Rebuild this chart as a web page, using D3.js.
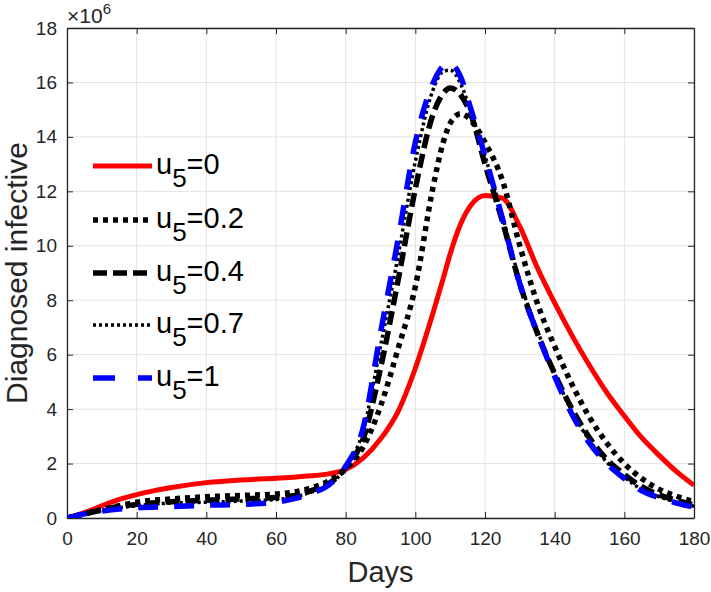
<!DOCTYPE html>
<html><head><meta charset="utf-8">
<script src="https://cdn.jsdelivr.net/npm/d3@7"></script>
<style>body{margin:0;background:#fff}svg{display:block}</style>
</head><body>
<script>
const days   = [0,5,10,15,20,30,40,50,60,65,70,75,80,85,90,95,100,105,108,110,113,116,120,125,130,135,140,145,150,155,160,165,170,175,180];
const u5_0   = [0,0.2,0.45,0.68,0.86,1.12,1.3,1.4,1.46,1.5,1.55,1.62,1.78,2.2,2.9,3.9,5.5,7.5,8.8,9.7,10.8,11.5,11.85,11.75,10.7,9.2,7.9,6.7,5.6,4.6,3.75,2.95,2.3,1.7,1.2];
const u5_02  = [0,0.15,0.3,0.45,0.58,0.7,0.78,0.83,0.88,0.95,1.1,1.35,1.8,2.6,4.1,6.2,8.5,12.1,13.8,14.5,14.85,14.6,13.8,12.4,10.0,7.9,6.3,4.9,3.7,2.75,2.0,1.45,1.05,0.8,0.6];
const u5_04  = [0,0.15,0.3,0.42,0.5,0.6,0.65,0.7,0.75,0.82,1.0,1.25,1.85,2.9,5.5,8.7,12.1,14.8,15.6,15.8,15.55,14.8,13.0,10.9,8.6,6.8,5.3,4.0,2.95,2.15,1.6,1.15,0.85,0.65,0.48];
const u5_07  = [0,0.15,0.28,0.38,0.45,0.55,0.58,0.62,0.68,0.76,0.95,1.2,1.85,3.2,6.3,9.6,13.1,15.7,16.4,16.45,15.95,14.9,13.3,11.1,8.7,6.9,5.3,3.9,2.85,2.05,1.5,1.05,0.78,0.58,0.43];
const u5_1   = [0,0.15,0.25,0.33,0.38,0.42,0.47,0.5,0.58,0.7,0.9,1.2,1.9,3.3,6.8,10.2,13.8,15.95,16.6,16.7,16.2,15.0,13.3,11.0,8.6,6.8,5.2,3.8,2.75,2.0,1.45,1.0,0.75,0.55,0.4];
const seriesNames = ["0","0.2","0.4","0.7","1"];
const xTicks = [0,20,40,60,80,100,120,140,160,180];
const yTicks = [0,2,4,6,8,10,12,14,16,18];

const W=711,H=592;
const m={l:67,r:694,t:28,b:518};
const font="'Liberation Sans', Arial, Helvetica, sans-serif";
const svg=d3.select("body").append("svg").attr("width",W).attr("height",H).style("font-family",font);
const x=d3.scaleLinear().domain([0,180]).range([m.l,m.r]);
const y=d3.scaleLinear().domain([0,18]).range([m.b,m.t]);
const axisCol="#262626";

// grid
const g=svg.append("g");
g.selectAll(".gx").data(xTicks).enter().append("line").attr("x1",d=>x(d)).attr("x2",d=>x(d)).attr("y1",m.t).attr("y2",m.b).attr("stroke","#e3e3e3").attr("stroke-width",1);
g.selectAll(".gy").data(yTicks).enter().append("line").attr("y1",d=>y(d)).attr("y2",d=>y(d)).attr("x1",m.l).attr("x2",m.r).attr("stroke","#e3e3e3").attr("stroke-width",1);

// axes
const ax=svg.append("g").attr("transform",`translate(0,${m.b})`).call(d3.axisBottom(x).tickValues(xTicks).tickSizeInner(-6).tickSizeOuter(0).tickPadding(14));
const ay=svg.append("g").attr("transform",`translate(${m.l},0)`).call(d3.axisLeft(y).tickValues(yTicks).tickSizeInner(-6).tickSizeOuter(0).tickPadding(10));
const at=svg.append("g").attr("transform",`translate(0,${m.t})`).call(d3.axisTop(x).tickValues(xTicks).tickSizeInner(-6).tickSizeOuter(0).tickFormat(""));
const ar=svg.append("g").attr("transform",`translate(${m.r},0)`).call(d3.axisRight(y).tickValues(yTicks).tickSizeInner(-6).tickSizeOuter(0).tickFormat(""));
[ax,ay,at,ar].forEach(a=>{a.selectAll("path").attr("stroke",axisCol).attr("stroke-width",1.3);a.selectAll("line").attr("stroke",axisCol);a.selectAll("text").attr("fill",axisCol).style("font-size","19px").style("font-family",font);});

// clip
svg.append("clipPath").attr("id","clip").append("rect").attr("x",m.l).attr("y",m.t-10).attr("width",m.r-m.l).attr("height",m.b-m.t+10);

const styles=[
 {data:u5_0,color:"#ff0000",w:5,dash:null},
 {data:u5_02,color:"#000",w:5.5,dash:"5,5"},
 {data:u5_04,color:"#000",w:5.5,dash:"14,6"},
 {data:u5_07,color:"#000",w:3.5,dash:"3,3"},
 {data:u5_1,color:"#0000ff",w:5.5,dash:"20,16"}
];
const line=d3.line().x((d,i)=>x(days[i])).y(d=>y(d)).curve(d3.curveMonotoneX);
const lg=svg.append("g").attr("clip-path","url(#clip)");
styles.forEach(s=>{
 lg.append("path").attr("d",line(s.data)).attr("fill","none").attr("stroke",s.color).attr("stroke-width",s.w).attr("stroke-dasharray",s.dash);
});

// legend
const legY=[166,220,273,325,378];
const legDash=["","5,5","14,6","3,3","22,23"];
styles.forEach((s,i)=>{
 svg.append("line").attr("x1",93).attr("x2",152).attr("y1",legY[i]).attr("y2",legY[i]).attr("stroke",s.color).attr("stroke-width",s.w).attr("stroke-dasharray",legDash[i]||null);
 const t=svg.append("text").attr("x",156).attr("y",legY[i]+8).attr("fill","#000").style("font-size","29px");
 t.append("tspan").text("u");
 t.append("tspan").attr("dy",13).style("font-size","26px").text("5");
 t.append("tspan").attr("dy",-13).text("="+seriesNames[i]);
});

// labels
svg.append("text").attr("x",(m.l+m.r)/2).attr("y",582).attr("text-anchor","middle").attr("fill",axisCol).style("font-size","29px").text("Days");
svg.append("text").attr("transform",`translate(27,${(m.t+m.b)/2}) rotate(-90)`).attr("text-anchor","middle").attr("fill",axisCol).style("font-size","30px").text("Diagnosed infective");
const e=svg.append("text").attr("x",67).attr("y",23).attr("fill",axisCol).style("font-size","21px");
e.append("tspan").text("×10");
e.append("tspan").attr("dy",-9).style("font-size","15px").text("6");
</script>
</body></html>
